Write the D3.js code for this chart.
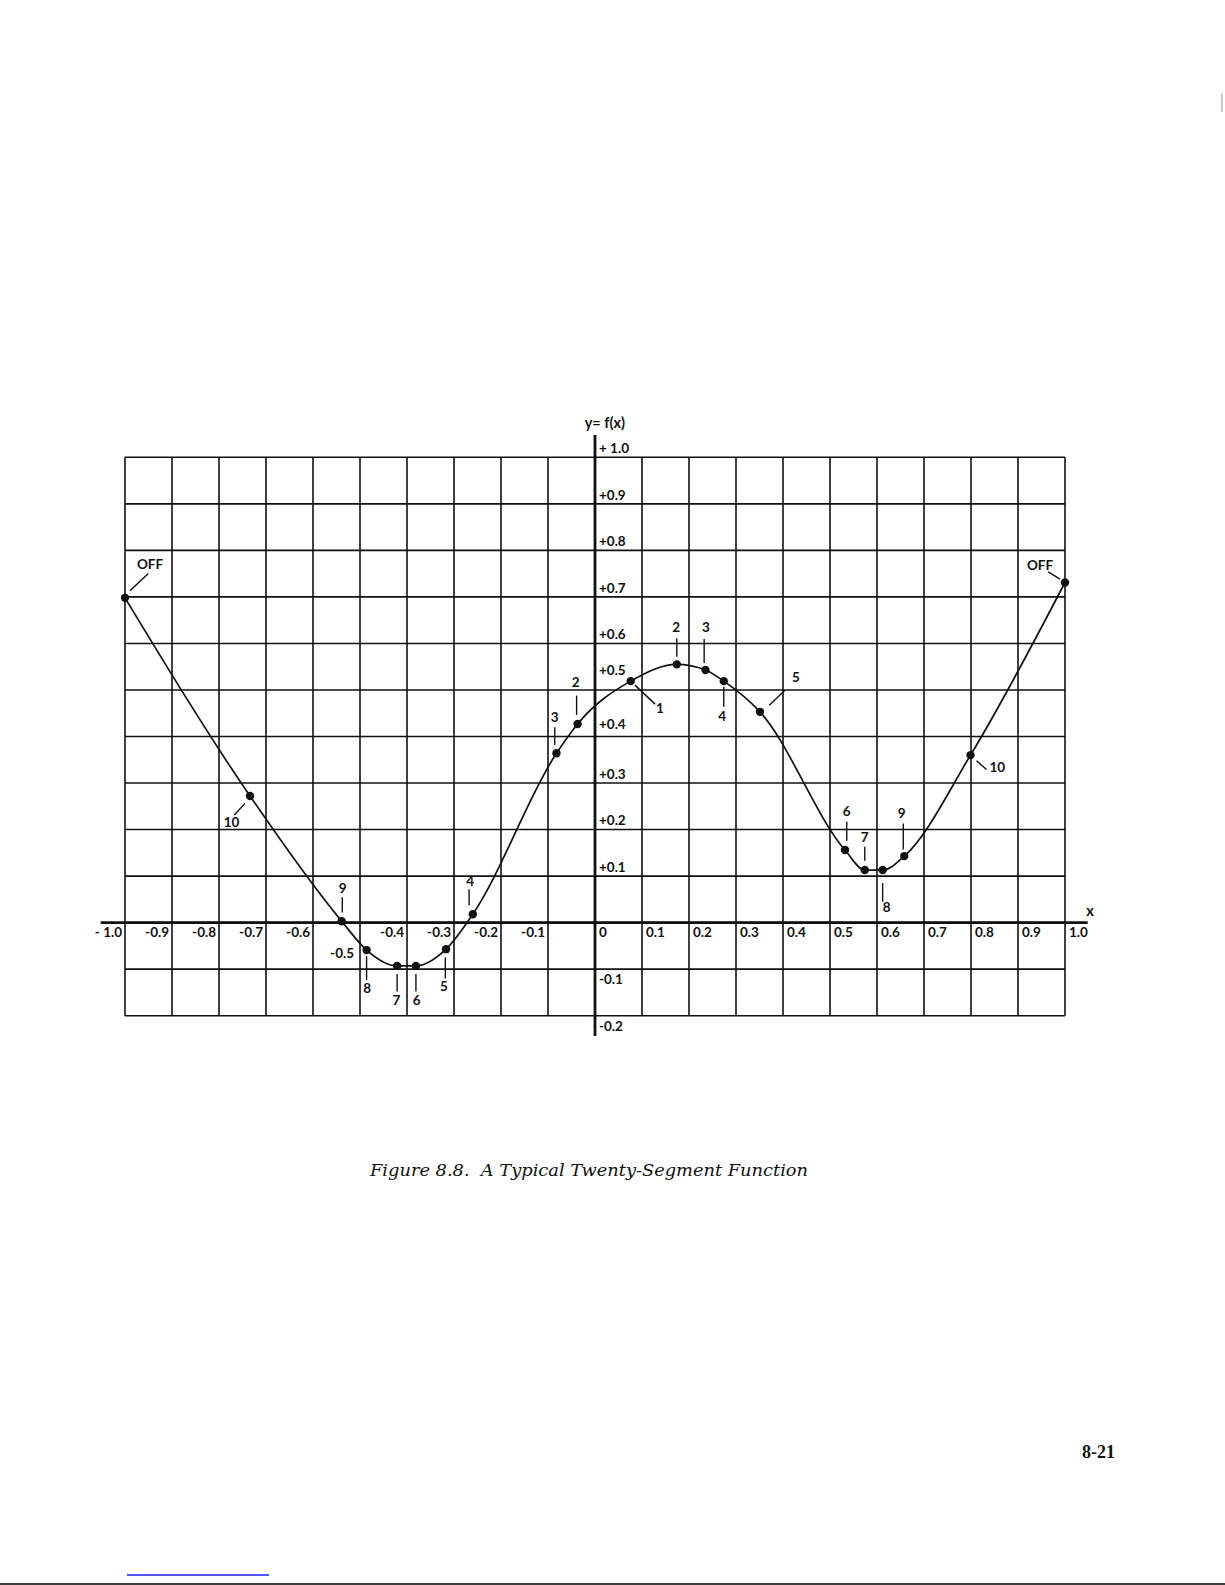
<!DOCTYPE html>
<html><head><meta charset="utf-8">
<script src="https://cdn.jsdelivr.net/npm/d3@7"></script>
<style>html,body{margin:0;padding:0;background:#fff;} svg{display:block} text{white-space:pre}</style>
</head><body>
<svg id="c" width="1225" height="1585"></svg>
<script>
// ---------- data ----------
const breakX = [-1.0, -0.734, -0.539, -0.486, -0.421, -0.381, -0.317, -0.260, -0.082, -0.037,
                0.076, 0.174, 0.235, 0.274, 0.351, 0.532, 0.574, 0.612, 0.658, 0.799, 1.0];
const breakY = [0.698, 0.272, 0.003, -0.059, -0.093, -0.093, -0.057, 0.018, 0.364, 0.427,
                0.519, 0.555, 0.543, 0.519, 0.453, 0.156, 0.113, 0.113, 0.143, 0.360, 0.731];
const pointLabels = ["OFF","10","9","8","7","6","5","4","3","2","1","2","3","4","5","6","7","8","9","10","OFF"];
const xTickValues = [-1.0,-0.9,-0.8,-0.7,-0.6,-0.5,-0.4,-0.3,-0.2,-0.1,0,0.1,0.2,0.3,0.4,0.5,0.6,0.7,0.8,0.9,1.0];
const xTickLabels = ["- 1.0","-0.9","-0.8","-0.7","-0.6","-0.5","-0.4","-0.3","-0.2","-0.1","0","0.1","0.2","0.3","0.4","0.5","0.6","0.7","0.8","0.9","1.0"];
const yTickValues = [1.0,0.9,0.8,0.7,0.6,0.5,0.4,0.3,0.2,0.1,-0.1,-0.2];
const yTickLabels = ["+ 1.0","+0.9","+0.8","+0.7","+0.6","+0.5","+0.4","+0.3","+0.2","+0.1","-0.1","-0.2"];
const yAxisTitle = "y= f(x)";
const xAxisTitle = "x";
const captionText = "Figure 8.8.  A Typical Twenty-Segment Function";
const pageNumber = "8-21";

// ---------- layout (pixel offsets of annotations relative to their point) ----------
// [textDx, textDy, leaderX1, leaderY1, leaderX2, leaderY2]
const labelLayout = [
  [25,-33.7, 5,-7, 23.3,-24.4],
  [-18.5,26, -5,7.3, -15.7,19],
  [1,-33, 0.6,-24, 0.6,-8.7],
  [0.6,38, 0,6, 0,30],
  [-0.6,34, 0,8, 0,25.7],
  [0.7,34, 0,8, 0,25.7],
  [-2,37, -0.7,8.3, -0.7,29.3],
  [-2.7,-33, -3.7,-25, -3.7,-9],
  [-1.7,-36.6, -1.7,-26, -1.7,-8.3],
  [-2,-41.7, -1,-28.3, -1,-9],
  [29.3,27.3, 4.3,4, 24.3,23],
  [-0.7,-37.6, 0,-26, 0,-7.6],
  [0.4,-43.3, -1.3,-31, -1.3,-7],
  [-1.7,35, 0,5.7, 0,25.7],
  [36,-35, 9.3,-6.7, 25,-21.7],
  [1.7,-39, 1.7,-28.3, 1.7,-9.3],
  [0,-32.7, 0,-23.3, 0,-9.3],
  [4,37.3, 0,13, 0,31.7],
  [-2.6,-43.3, -1,-32.7, -1,-6.7],
  [26.8,11.7, 6,5.7, 16,14.3],
  [-25,-17.3, -16.7,-10.6, -5,-3.3]
];

const svg = d3.select("#c");
const x = d3.scaleLinear().domain([-1, 1]).range([125, 1065]);
const y = d3.scaleLinear().domain([-0.2, 1]).range([1015.7, 457.3]);
const FONT = "Lato, 'Open Sans', sans-serif";
const FS = 13.5;
const ink = "#111";

// grid
const g = svg.append("g").attr("stroke", ink).attr("stroke-width", 1.6);
g.selectAll("line.v").data(xTickValues).join("line")
  .attr("x1", d => x(d)).attr("x2", d => x(d))
  .attr("y1", y(1)).attr("y2", y(-0.2));
const hVals = d3.range(-2, 11).map(i => i / 10);
g.selectAll("line.h").data(hVals).join("line")
  .attr("x1", x(-1)).attr("x2", x(1))
  .attr("y1", d => y(d)).attr("y2", d => y(d));

// axes
svg.append("line").attr("x1", 100.7).attr("x2", 1087.7).attr("y1", y(0)).attr("y2", y(0))
  .attr("stroke", ink).attr("stroke-width", 2.8);
svg.append("line").attr("x1", x(0)).attr("x2", x(0)).attr("y1", 435).attr("y2", 1036)
  .attr("stroke", ink).attr("stroke-width", 2.8);

// x tick labels
const xl = svg.append("g").attr("font-family", FONT).attr("font-weight", 700).attr("font-size", FS).attr("fill", ink);
xTickValues.forEach((v, i) => {
  const neg = v < 0;
  let tx = neg ? x(v) - 3 : x(v) + 4;
  let ty = y(0) + 10;
  if (Math.abs(v + 0.5) < 1e-9) { tx = x(v) - 6; ty = y(0) + 31; }
  xl.append("text").attr("x", tx).attr("y", ty).attr("dy", "0.36em")
    .attr("text-anchor", neg ? "end" : "start").text(xTickLabels[i]);
});

// y tick labels
const yOffsets = {"0.5": -20, "0.4": -12};
const yl = svg.append("g").attr("font-family", FONT).attr("font-weight", 700).attr("font-size", FS).attr("fill", ink);
yTickValues.forEach((v, i) => {
  const off = v < 0 ? 10 : (yOffsets[String(v)] !== undefined ? yOffsets[String(v)] : -9);
  yl.append("text").attr("x", x(0) + 4).attr("y", y(v) + off).attr("dy", "0.36em").text(yTickLabels[i]);
});

// axis titles
svg.append("text").attr("x", 604.8).attr("y", 422.7).attr("dy", "0.36em").attr("text-anchor", "middle")
  .attr("font-family", FONT).attr("font-weight", 700).attr("font-size", 14.5).attr("fill", ink).text(yAxisTitle);
svg.append("text").attr("x", 1090).attr("y", 911).attr("dy", "0.36em").attr("text-anchor", "middle")
  .attr("font-family", FONT).attr("font-weight", 700).attr("font-size", 14.5).attr("fill", ink).text(xAxisTitle);

// curve
const pts = breakX.map((v, i) => [x(v), y(breakY[i])]);
svg.append("path").attr("d", d3.line().curve(d3.curveMonotoneX)(pts))
  .attr("fill", "none").attr("stroke", ink).attr("stroke-width", 1.7);
svg.selectAll("circle.pt").data(pts).join("circle")
  .attr("cx", d => d[0]).attr("cy", d => d[1]).attr("r", 4.2).attr("fill", ink);

// annotations
const an = svg.append("g");
pts.forEach((p, i) => {
  const L = labelLayout[i];
  an.append("line").attr("x1", p[0] + L[2]).attr("y1", p[1] + L[3])
    .attr("x2", p[0] + L[4]).attr("y2", p[1] + L[5]).attr("stroke", ink).attr("stroke-width", 1.4);
  an.append("text").attr("x", p[0] + L[0]).attr("y", p[1] + L[1]).attr("dy", "0.36em")
    .attr("text-anchor", "middle").attr("font-family", FONT).attr("font-weight", 700)
    .attr("font-size", FS).attr("fill", ink).text(pointLabels[i]);
});

// caption
svg.append("text").attr("x", 370).attr("y", 1170.7).attr("dy", "0.36em")
  .attr("font-family", "'DejaVu Serif', serif").attr("font-style", "italic").attr("font-size", 16)
  .attr("textLength", 438).attr("lengthAdjust", "spacingAndGlyphs")
  .attr("fill", ink).text(captionText);
// page number
svg.append("text").attr("x", 1115).attr("y", 1451.7).attr("dy", "0.36em").attr("text-anchor", "end")
  .attr("font-family", "'Liberation Serif', serif").attr("font-weight", 700).attr("font-size", 18)
  .attr("fill", ink).text(pageNumber);

// page scan marks
svg.append("line").attr("x1", 127).attr("x2", 269).attr("y1", 1575).attr("y2", 1575)
  .attr("stroke", "#1a1aff").attr("stroke-width", 1.3);
svg.append("line").attr("x1", 0).attr("x2", 1225).attr("y1", 1584).attr("y2", 1584)
  .attr("stroke", "#000").attr("stroke-width", 1.5);
svg.append("line").attr("x1", 1222).attr("x2", 1222).attr("y1", 93).attr("y2", 112)
  .attr("stroke", "#999").attr("stroke-width", 1);
</script>
</body></html>
